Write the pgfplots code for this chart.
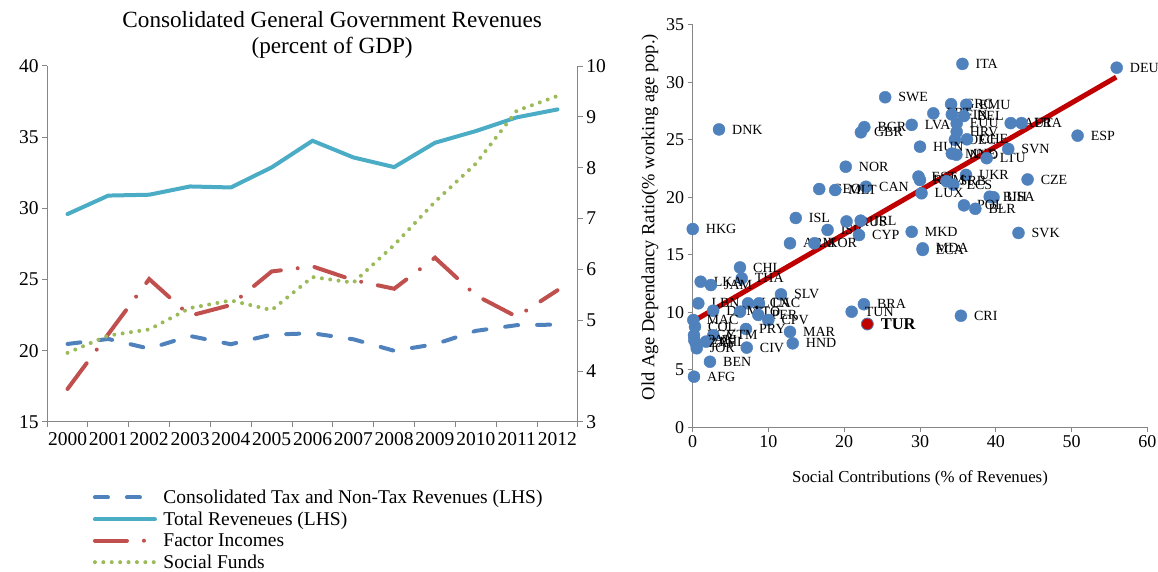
\documentclass[border=0pt]{standalone}
\usepackage{pgfplots}
\pgfplotsset{compat=1.18}
\usepackage{pgfplotstable}
\usepackage{fontspec}
\setmainfont{Liberation Serif}
\definecolor{axisgray}{HTML}{868686}
\definecolor{taxblue}{HTML}{4F81BD}
\definecolor{totalcyan}{HTML}{4BACC6}
\definecolor{factorred}{HTML}{C0504D}
\definecolor{socialgreen}{HTML}{9BBB59}
\definecolor{markblue}{HTML}{4F81BD}
\definecolor{linered}{HTML}{C00000}

\pgfplotstableread{
idx tax total factor social
0 20.48 29.60 3.65 4.36
1 20.83 30.90 4.73 4.70
2 20.15 30.96 5.81 4.82
3 21.04 31.54 5.09 5.24
4 20.46 31.47 5.30 5.39
5 21.14 32.88 5.96 5.20
6 21.23 34.75 6.06 5.85
7 20.81 33.58 5.79 5.74
8 20.00 32.90 5.62 6.48
9 20.46 34.61 6.23 7.33
10 21.40 35.43 5.49 8.08
11 21.80 36.39 5.07 9.12
12 21.84 36.95 5.59 9.41
}\revdata

\pgfplotstableread{
x y label
35.6 31.6 ITA
55.96 31.27 DEU
25.4 28.7 SWE
34.1 28.1 GRC
36.1 28.05 EMU
31.76 27.3 PRT
34.2 27.2 FIN
35.8 27.07 BEL
34.84 26.43 EUU
34.84 25.7 HRV
34.6 25.0 OEC
36.2 25.04 CHE
28.9 26.3 LVA
22.65 26.1 BGR
22.2 25.65 GBR
3.47 25.9 DNK
41.97 26.45 AUT
43.4 26.45 FRA
50.8 25.36 ESP
30.0 24.4 HUN
34.2 23.8 MNE
34.8 23.7 NLD
38.8 23.4 LTU
41.65 24.2 SVN
20.2 22.66 NOR
36.07 21.95 UKR
44.2 21.55 CZE
29.8 21.8 EST
30.0 21.5 ROM
33.5 21.4 SRB
34.4 21.1 ECS
30.2 20.35 LUX
22.87 20.92 CAN
16.7 20.72 GEO
18.8 20.63 MLT
39.2 20.05 BIH
39.7 20.0 USA
35.8 19.3 POL
37.3 19.0 BLR
13.6 18.2 ISL
0.0 17.24 HKG
17.8 17.16 ISR
20.3 17.9 RUS
22.17 17.97 IRL
21.95 16.72 CYP
28.9 17.0 MKD
43.0 16.9 SVK
12.84 16.0 ARM
16.05 16.0 KOR
30.35 15.56 MDA
30.35 15.42 ECA
6.24 13.9 CHL
6.47 12.95 THA
1.05 12.66 LKA
2.4 12.37 JAM
11.65 11.56 SLV
0.74 10.78 LBN
7.3 10.78 LCN
8.75 10.78 LAC
2.7 10.14 DOM
6.24 10.05 TTO
8.66 9.77 PER
9.98 9.33 CPV
22.6 10.7 BRA
20.98 10.05 TUN
35.4 9.7 CRI
0.08 9.33 MAC
0.3 8.75 COL
7.03 8.55 PRY
12.84 8.3 MAR
0.17 8.0 EGY
2.72 8.0 GTM
0.2 7.6 PAK
1.76 7.45 PHL
0.4 7.3 ZAF
13.2 7.3 HND
7.13 6.93 CIV
0.53 6.87 JOR
2.28 5.7 BEN
0.17 4.4 AFG
}\scatterdata

\pgfplotstableread{
x y label
23.05 8.98 TUR
}\turdata

\pgfplotsset{
  taxstyle/.style={taxblue, line width=4pt, line cap=round, dash pattern=on 13pt off 19pt},
  totalstyle/.style={totalcyan, line width=4pt, line cap=round, solid},
  factorstyle/.style={factorred, line width=4pt, line cap=round, dash pattern=on 32pt off 17pt on 0pt off 17pt},
  socialstyle/.style={socialgreen, line width=4pt, line cap=round, dash pattern=on 0pt off 8.4pt},
  common/.style={
    scale only axis,
    axis line style={draw=axisgray, line width=1pt},
    every tick/.style={axisgray, line width=1pt},
    tick align=outside, major tick length=5pt, minor tick length=5pt,
    /pgf/number format/assume math mode=true,
  },
}

\begin{document}
\begin{tikzpicture}
\useasboundingbox (0pt,0pt) rectangle (1158pt,572pt);

% Left chart, LHS axis
\begin{axis}[common,
  at={(47.1pt,150pt)}, anchor=south west,
  width=530.8pt, height=356pt,
  xmin=-0.5, xmax=12.5, ymin=15, ymax=40,
  axis x line*=bottom, axis y line*=left,
  tick label style={font=\fontsize{19.5}{22}\selectfont},
  ytick={15,20,...,40},
  xtick={0,...,12},
  xticklabels={2000,2001,2002,2003,2004,2005,2006,2007,2008,2009,2010,2011,2012},
  major x tick style={draw=none},
  minor xtick={-0.5,0.5,...,12.5},
  xticklabel style={yshift=-2.5pt},
  clip=false,
]
\addplot[taxstyle] table[x=idx, y=tax] \revdata;
\addplot[totalstyle] table[x=idx, y=total] \revdata;
\node[align=center, font=\fontsize{23.2}{26}\selectfont] at (axis description cs:0.537,1.087)
  {Consolidated General Government Revenues\\(percent of GDP)};
\end{axis}

% Left chart, RHS axis
\begin{axis}[common,
  at={(47.1pt,150pt)}, anchor=south west,
  width=530.8pt, height=356pt,
  xmin=-0.5, xmax=12.5, ymin=3, ymax=10,
  axis x line=none, axis y line*=right,
  tick label style={font=\fontsize{19.5}{22}\selectfont},
  ytick={3,...,10},
  clip=false,
  legend style={at={(axis description cs:0.086,-0.186)}, anchor=north west,
    draw=none, fill=none, font=\fontsize{19.5}{22}\selectfont,
    row sep=3.8pt, inner sep=0pt, nodes={inner sep=1.5pt},
    /tikz/every odd column/.style={column sep=5pt}},
  legend cell align=left,
  legend image code/.code={\draw[#1] (2pt,0pt) -- (62pt,0pt);},
]
\addlegendimage{taxstyle}
\addlegendentry{Consolidated Tax and Non-Tax Revenues (LHS)}
\addlegendimage{totalstyle}
\addlegendentry{Total Reveneues (LHS)}
\addplot[factorstyle] table[x=idx, y=factor] \revdata;
\addlegendentry{Factor Incomes}
\addplot[socialstyle] table[x=idx, y=social] \revdata;
\addlegendentry{Social Funds}
\end{axis}

% Right chart: scatter
\begin{axis}[common,
  at={(692.7pt,144.7pt)}, anchor=south west,
  width=454.6pt, height=402.5pt,
  xmin=0, xmax=60, ymin=0, ymax=35,
  xtick={0,10,...,60}, ytick={0,5,...,35},
  axis x line*=bottom, axis y line*=left,
  tick label style={font=\fontsize{18}{21}\selectfont},
  clip=false,
  xlabel={Social Contributions (\% of Revenues)},
  ylabel={Old Age Dependancy Ratio(\% working age pop.)},
  xlabel style={font=\fontsize{16.8}{19}\selectfont, at={(axis description cs:0.5,-0.126)}, anchor=center},
  ylabel style={font=\fontsize{18.5}{21}\selectfont, at={(axis description cs:-0.094,0.522)}, anchor=center},
]
\addplot[only marks, mark=*, mark size=6pt, mark options={fill=markblue, draw=markblue},
  nodes near coords, point meta=explicit symbolic,
  every node near coord/.style={anchor=west, xshift=13pt, inner sep=0pt,
    font=\fontsize{14}{16}\selectfont, text=black}]
  table[x=x, y=y, meta=label] \scatterdata;
\addplot[only marks, mark=*, mark size=6pt, mark options={fill=linered, draw=markblue, line width=0.8pt},
  nodes near coords, point meta=explicit symbolic,
  every node near coord/.style={anchor=west, xshift=13pt, inner sep=0pt,
    font=\fontsize{16.5}{19}\selectfont\bfseries, text=black}]
  table[x=x, y=y, meta=label] \turdata;
\addplot[linered, line width=5pt] coordinates {(0,9.2) (55.9,30.45)};
\end{axis}
\end{tikzpicture}
\end{document}
